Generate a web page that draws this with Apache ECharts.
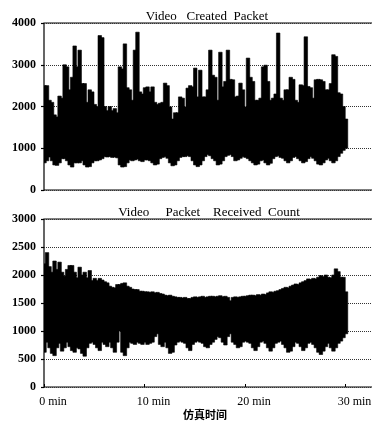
<!DOCTYPE html>
<html>
<head>
<meta charset="utf-8">
<script src="https://cdn.jsdelivr.net/npm/echarts/dist/echarts.min.js"></script>
<style>
  html, body { margin: 0; padding: 0; background: #fff; }
  #chart { width: 372px; height: 425px; }
</style>
</head>
<body>
<div id="chart"></div>
<script>
// samples every 0.25 min, 0..30 min
var sampleStep = 0.25;

var createdHigh = [
  2500, 2500, 2150, 2100, 1800, 1750, 2250, 2200, 3000, 2950,
  2400, 2700, 3450, 2950, 3350, 2550, 2550, 2100, 2400, 2350,
  2050, 2000, 3700, 3650, 2000, 1900, 2000, 1900, 1950, 1850,
  2950, 2900, 3500, 2450, 2400, 2150, 3350, 3780, 2350, 2300,
  2450,
  2470, 2350, 2470, 2100, 2050, 2080, 2100, 2560, 2500, 1990,
  1700, 1850, 1850, 2230, 2200, 1990, 2440, 2500, 2470, 2920,
  2230, 2870, 2230, 2230, 2400, 3350, 2750, 2700, 2150, 3300,
  2470, 2600, 3350, 2650, 2640, 2230, 2250, 2560, 2400, 1990,
  3160, 2700, 2600, 2150, 2150, 2200, 2950, 2990, 2600, 2150,
  2200, 2300, 3760, 2200, 2150, 2400, 2400, 2700, 2650, 2150,
  2100, 2520, 2500, 3670, 2480, 2450, 2200, 2640, 2650, 2640,
  2600, 2400, 2400, 2550, 3240, 3200, 2330, 2300, 2000, 1700
];
var createdLow = [
  650, 700, 790, 700, 600, 590, 650, 750, 750, 700,
  600, 550, 650, 650, 650, 700, 600, 550, 560, 650,
  700, 700, 720, 750, 800, 790, 800, 780, 790, 770,
  600, 550, 560, 650, 720, 700, 720, 740, 700, 680,
  720,
  720, 700, 650, 600, 620, 750, 780, 800, 760, 650,
  580, 600, 700, 780, 800, 800, 820, 800, 700, 600,
  560, 600, 700, 800, 850, 820, 750, 700, 600, 620,
  700, 800, 830, 850, 800, 700, 720, 760, 800, 780,
  750, 700, 650, 600, 620, 700, 720, 650, 600, 640,
  750, 800, 820, 780, 760, 700, 650, 700, 780, 800,
  750, 700, 650, 680, 750, 800, 760, 700, 620, 600,
  650, 720, 760, 700, 650, 700, 800, 880, 950, 1000
];

var receivedHigh = [
  2200, 2400, 2150, 2050, 2250, 2100, 2230, 2050, 1980, 2100,
  2170, 2170, 2050, 1950, 2140, 2000, 2050, 1950, 2080, 1900,
  1940, 1900, 1940, 1910, 1880, 1860, 1800, 1780, 1770, 1830,
  1830, 1850, 1860, 1800, 1780, 1750, 1740, 1740, 1710, 1710,
  1700,
  1700, 1690, 1700, 1680, 1690, 1670, 1660, 1640, 1630, 1640,
  1620, 1610, 1600, 1600, 1590, 1600, 1580, 1580, 1600, 1610,
  1600, 1610, 1620, 1600, 1610, 1620, 1620, 1610, 1620, 1630,
  1610, 1620, 1600, 1540, 1600, 1610, 1600, 1610, 1620, 1620,
  1630, 1640, 1640, 1630, 1650, 1640, 1660, 1650, 1680, 1700,
  1690, 1710, 1720, 1740, 1760, 1780, 1770, 1800, 1820, 1840,
  1830, 1860, 1880, 1900, 1930, 1920, 1940, 1930, 1960, 1990,
  1970, 2000, 1960, 1950, 2000, 2110, 2060, 1960, 1960, 1700
];
var receivedLow = [
  620, 800, 700, 600, 560, 700, 780, 640, 700, 800,
  720, 650, 620, 700, 680, 600, 550, 700, 780, 800,
  760, 700, 650, 800, 760, 720, 800, 700, 620, 800,
  1000, 620, 560, 700, 800, 780, 760, 800, 780, 760,
  800,
  760, 780, 800, 900, 950, 760, 720, 800, 700, 600,
  620, 750, 800, 820, 800, 780, 700, 650, 760, 800,
  820, 800, 780, 720, 700, 760, 800, 850, 900, 880,
  800, 750, 900, 950, 800, 760, 700, 720, 800, 820,
  800, 780, 700, 650, 720, 800, 820, 780, 700, 640,
  700, 780, 800, 820, 760, 700, 620, 640, 720, 800,
  780, 720, 650, 700, 780, 800, 760, 700, 620, 580,
  640, 720, 780, 700, 640, 700, 780, 820, 880, 950
];

function bandData(high, low) {
  return high.map(function (v, i) { return [i * sampleStep, low[i], v]; });
}

var serif = 'Liberation Serif';

function xAxisFor(idx, withLabels) {
  return {
    type: 'value', gridIndex: idx, min: 0, max: 33.83, interval: 10,
    axisLine: { show: false },
    splitLine: { show: false },
    axisTick: { show: withLabels, inside: true, length: 3, lineStyle: { color: '#000' } },
    axisLabel: {
      show: withLabels, margin: 9, showMaxLabel: false,
      color: '#000', fontFamily: serif, fontSize: 12,
      // blank lead-in so the number, not the whole label, sits on the tick
      formatter: function (v) { return '{p| }' + v + ' min'; },
      rich: { p: { width: 18, fontFamily: serif, fontSize: 12 } }
    }
  };
}
function yAxisFor(idx, max, step) {
  return {
    type: 'value', gridIndex: idx, min: 0, max: max, interval: step,
    axisLine: { show: false },
    axisTick: { show: true, length: 3, lineStyle: { color: '#000', width: 1.2 } },
    splitLine: { lineStyle: { type: 'dotted', color: '#333', width: 1 } },
    axisLabel: {
      margin: 8, color: '#000', fontFamily: serif, fontSize: 12, fontWeight: 'bold',
      formatter: function (v) { return String(v); }
    }
  };
}
// one filled column per sample, from low to high
function bandSeries(idx, high, low) {
  return {
    type: 'custom', xAxisIndex: idx, yAxisIndex: idx, silent: true, clip: true,
    encode: { x: 0, y: [1, 2] },
    renderItem: function (params, api) {
      var t = api.value(0);
      var a = api.coord([t - sampleStep / 2, api.value(2)]);
      var b = api.coord([t + sampleStep / 2, api.value(1)]);
      return {
        type: 'rect',
        shape: { x: a[0], y: a[1], width: b[0] - a[0] + 1, height: b[1] - a[1] },
        style: { fill: '#000', stroke: '#000', lineWidth: 0.6 }
      };
    },
    data: bandData(high, low)
  };
}

var chart = echarts.init(document.getElementById('chart'), null, { renderer: 'canvas' });
chart.setOption({
  animation: false,
  backgroundColor: '#fff',
  title: [{
    text: 'Video   Created  Packet', left: 202, top: 5, textAlign: 'center',
    textStyle: { fontFamily: serif, fontSize: 13, fontWeight: 'normal', color: '#000' }
  }, {
    text: 'Video     Packet    Received  Count', left: 204, top: 201, textAlign: 'center',
    textStyle: { fontFamily: serif, fontSize: 13, fontWeight: 'normal', color: '#000' }
  }],
  grid: [
    { left: 44, top: 23, height: 167, width: 340, outerBoundsMode: 'none',
      show: true, borderColor: '#000', borderWidth: 1.2 },
    { left: 44, top: 219, height: 168, width: 340, outerBoundsMode: 'none',
      show: true, borderColor: '#000', borderWidth: 1.2 }
  ],
  xAxis: [xAxisFor(0, false), xAxisFor(1, true)],
  yAxis: [yAxisFor(0, 4000, 1000), yAxisFor(1, 3000, 500)],
  graphic: [{
    type: 'text', left: 183, top: 409,
    style: { text: '仿真时间', fill: '#000', font: 'bold 11px "Noto Sans CJK SC"' }
  }],
  series: [bandSeries(0, createdHigh, createdLow), bandSeries(1, receivedHigh, receivedLow)]
});
</script>
</body>
</html>
